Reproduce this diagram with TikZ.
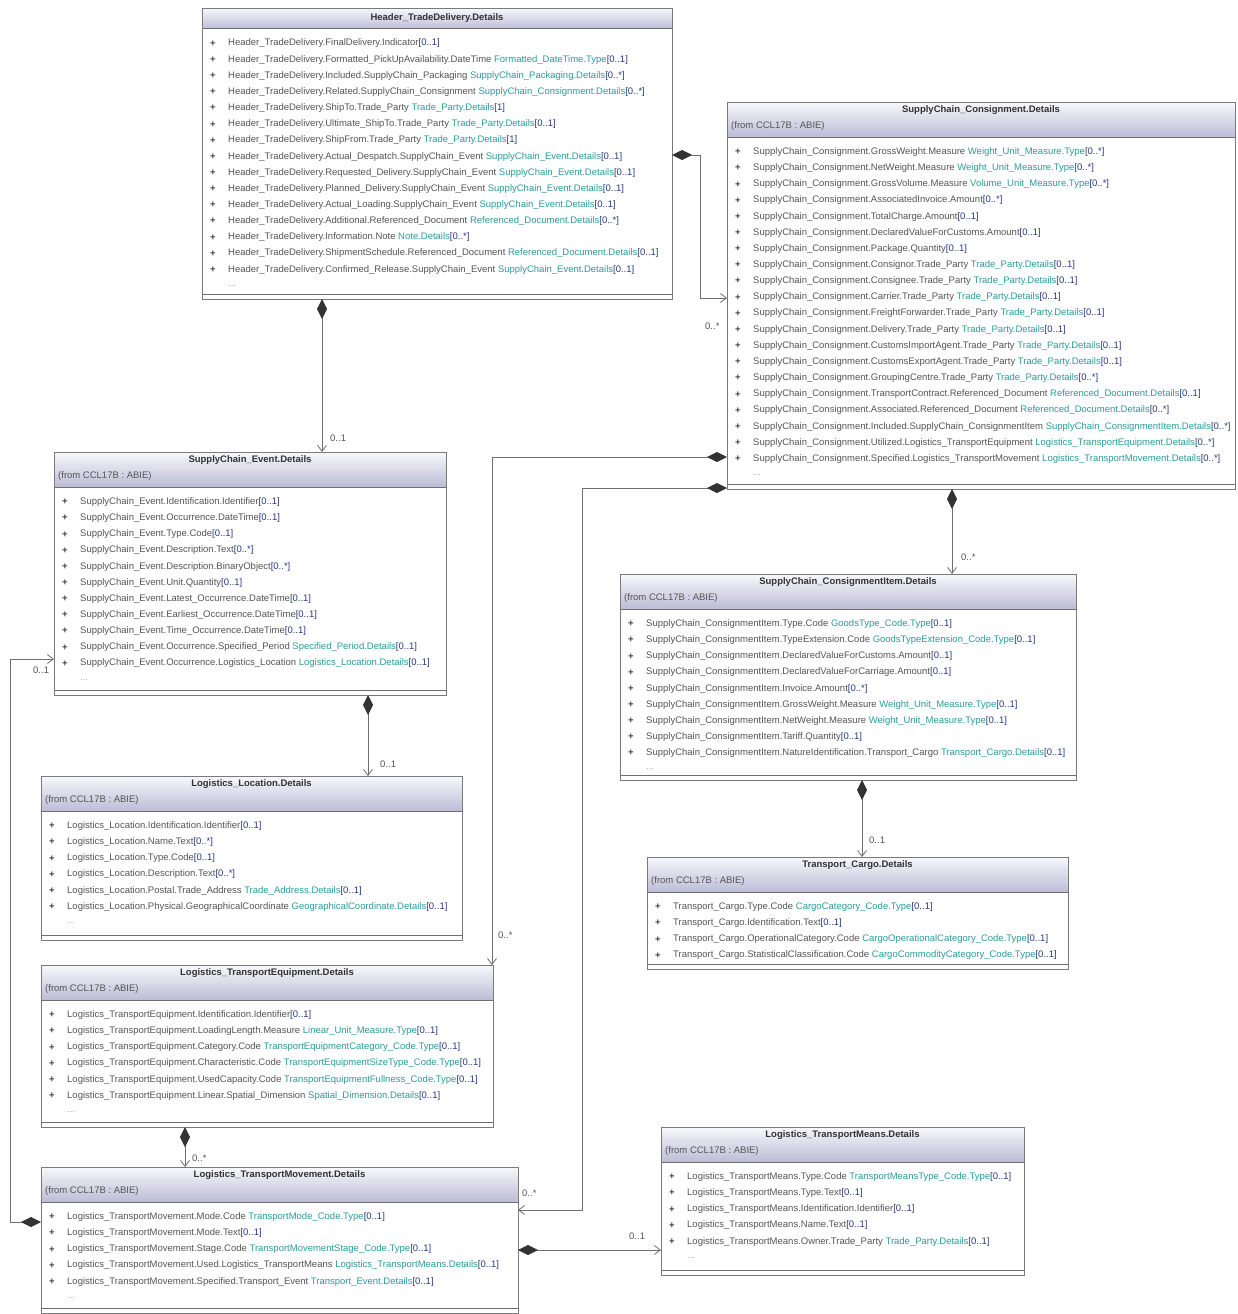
\documentclass[tikz,border=0pt]{standalone}
\usepackage{fontspec}
\setmainfont{Liberation Sans}
\usetikzlibrary{arrows.meta,calc}
\definecolor{bordc}{HTML}{7A7A7A}
\definecolor{namec}{HTML}{555555}
\definecolor{typec}{HTML}{2E9A9A}
\definecolor{multc}{HTML}{2A3A80}
\definecolor{hdtop}{HTML}{F8F8FC}
\definecolor{hdbot}{HTML}{BCBCD6}
\definecolor{linec}{HTML}{6E6E6E}
\newcommand\tyc[1]{\textcolor{typec}{#1}}
\newcommand\mlc[1]{\textcolor{multc}{#1}}
\newcommand\HTD{Header\_TradeDelivery}
\newcommand\SCC{SupplyChain\_Consignment}
\newcommand\SCE{SupplyChain\_Event}
\newcommand\LLo{Logistics\_Location}
\newcommand\LTE{Logistics\_TransportEquipment}
\newcommand\LTM{Logistics\_TransportMovement}
\newcommand\LTMe{Logistics\_TransportMeans}
\newcommand\SCI{SupplyChain\_ConsignmentItem}
\newcommand\TCa{Transport\_Cargo}
\newcommand\TPD{\tyc{Trade\_Party.Details}}
\newcount\rowno
\newcommand\bx{0}\newcommand\ry{0}\newcommand\bid{x}
\tikzset{
  x=1pt, y=-1pt,
  every node/.style={font=\fontsize{9.5}{11}\selectfont},
  box/.style={fill=white, inner sep=0pt, outer sep=0pt},
  boxline/.style={draw=bordc, line width=0.9pt},
  sepline/.style={draw=bordc!90!black, line width=1pt},
  ttl/.style={font=\bfseries\fontsize{9.5}{11}\selectfont, text=black!80, inner sep=0pt},
  frm/.style={anchor=west, text=namec, inner sep=0pt},
  attr/.style={anchor=west, text=namec, inner sep=0pt},
  plus/.style={text=black!75, inner sep=0pt, font=\bfseries\fontsize{9.5}{11}\selectfont},
  lbl/.style={anchor=west, text=namec, inner sep=0pt},
  comp/.style={draw=linec, line width=0.8pt,
    {Diamond[length=20pt,width=10pt,color=black!80]}-{Straight Barb[length=6pt,width=9pt]}},
}
\newcommand\cls[7]{%
  \node[box, minimum width={#4-#2}, minimum height={#5-#3}, anchor=north west] (#1) at (#2,#3) {};
  \ifnum#7=1
    \shade[top color=hdtop,bottom color=hdbot] (#2,#3) rectangle (#4,#3+35);
    \draw[sepline] (#2,#3+35) -- (#4,#3+35);
    \node[ttl] (#1-title) at ({(#2+#4)/2},#3+8.5) {#6};
    \node[frm] (#1-from) at (#2+4,#3+24.5) {(from CCL17B : ABIE)};
    \gdef\ry{#3+50}%
  \else
    \shade[top color=hdtop,bottom color=hdbot] (#2,#3) rectangle (#4,#3+21);
    \draw[sepline] (#2,#3+21) -- (#4,#3+21);
    \node[ttl] (#1-title) at ({(#2+#4)/2},#3+10) {#6};
    \gdef\ry{#3+35.5}%
  \fi
  \draw[sepline] (#2,#5-5) -- (#4,#5-5);
  \draw[boxline] (#2,#3) rectangle (#4,#5);
  \gdef\bx{#2}\gdef\bid{#1}\global\rowno=0
}
\newcommand\R[1]{%
  \node[plus] (\bid-p\the\rowno) at (\bx+11,\ry+\the\rowno*16.15) {+};
  \node[attr] (\bid-a\the\rowno) at (\bx+26,\ry+\the\rowno*16.15) {#1};
  \global\advance\rowno by 1
}
\newcommand\Dots{\node[attr, text=namec!50] (\bid-dots) at (\bx+26,\ry+\the\rowno*16.15) {...};}
\begin{document}
\begin{tikzpicture}
\useasboundingbox (0,0) rectangle (1237,1314);
\fill[white] (0,0) rectangle (1237,1314);

% Header_TradeDelivery
\cls{hdr}{202}{8}{672}{299}{Header\_TradeDelivery.Details}{0}
\R{\HTD.FinalDelivery.Indicator\mlc{[0..1]}}
\R{\HTD.Formatted\_PickUpAvailability.DateTime \tyc{Formatted\_DateTime.Type}\mlc{[0..1]}}
\R{\HTD.Included.SupplyChain\_Packaging \tyc{SupplyChain\_Packaging.Details}\mlc{[0..*]}}
\R{\HTD.Related.SupplyChain\_Consignment \tyc{SupplyChain\_Consignment.Details}\mlc{[0..*]}}
\R{\HTD.ShipTo.Trade\_Party \TPD\mlc{[1]}}
\R{\HTD.Ultimate\_ShipTo.Trade\_Party \TPD\mlc{[0..1]}}
\R{\HTD.ShipFrom.Trade\_Party \TPD\mlc{[1]}}
\R{\HTD.Actual\_Despatch.SupplyChain\_Event \tyc{SupplyChain\_Event.Details}\mlc{[0..1]}}
\R{\HTD.Requested\_Delivery.SupplyChain\_Event \tyc{SupplyChain\_Event.Details}\mlc{[0..1]}}
\R{\HTD.Planned\_Delivery.SupplyChain\_Event \tyc{SupplyChain\_Event.Details}\mlc{[0..1]}}
\R{\HTD.Actual\_Loading.SupplyChain\_Event \tyc{SupplyChain\_Event.Details}\mlc{[0..1]}}
\R{\HTD.Additional.Referenced\_Document \tyc{Referenced\_Document.Details}\mlc{[0..*]}}
\R{\HTD.Information.Note \tyc{Note.Details}\mlc{[0..*]}}
\R{\HTD.ShipmentSchedule.Referenced\_Document \tyc{Referenced\_Document.Details}\mlc{[0..1]}}
\R{\HTD.Confirmed\_Release.SupplyChain\_Event \tyc{SupplyChain\_Event.Details}\mlc{[0..1]}}
\Dots

% SupplyChain_Consignment
\cls{cons}{727}{102}{1235}{489}{SupplyChain\_Consignment.Details}{1}
\R{\SCC.GrossWeight.Measure \tyc{Weight\_Unit\_Measure.Type}\mlc{[0..*]}}
\R{\SCC.NetWeight.Measure \tyc{Weight\_Unit\_Measure.Type}\mlc{[0..*]}}
\R{\SCC.GrossVolume.Measure \tyc{Volume\_Unit\_Measure.Type}\mlc{[0..*]}}
\R{\SCC.AssociatedInvoice.Amount\mlc{[0..*]}}
\R{\SCC.TotalCharge.Amount\mlc{[0..1]}}
\R{\SCC.DeclaredValueForCustoms.Amount\mlc{[0..1]}}
\R{\SCC.Package.Quantity\mlc{[0..1]}}
\R{\SCC.Consignor.Trade\_Party \TPD\mlc{[0..1]}}
\R{\SCC.Consignee.Trade\_Party \TPD\mlc{[0..1]}}
\R{\SCC.Carrier.Trade\_Party \TPD\mlc{[0..1]}}
\R{\SCC.FreightForwarder.Trade\_Party \TPD\mlc{[0..1]}}
\R{\SCC.Delivery.Trade\_Party \TPD\mlc{[0..1]}}
\R{\SCC.CustomsImportAgent.Trade\_Party \TPD\mlc{[0..1]}}
\R{\SCC.CustomsExportAgent.Trade\_Party \TPD\mlc{[0..1]}}
\R{\SCC.GroupingCentre.Trade\_Party \TPD\mlc{[0..*]}}
\R{\SCC.TransportContract.Referenced\_Document \tyc{Referenced\_Document.Details}\mlc{[0..1]}}
\R{\SCC.Associated.Referenced\_Document \tyc{Referenced\_Document.Details}\mlc{[0..*]}}
\R{\SCC.Included.SupplyChain\_ConsignmentItem \tyc{SupplyChain\_ConsignmentItem.Details}\mlc{[0..*]}}
\R{\SCC.Utilized.Logistics\_TransportEquipment \tyc{Logistics\_TransportEquipment.Details}\mlc{[0..*]}}
\R{\SCC.Specified.Logistics\_TransportMovement \tyc{Logistics\_TransportMovement.Details}\mlc{[0..*]}}
\Dots

% SupplyChain_Event
\cls{evt}{54}{452}{446}{695}{SupplyChain\_Event.Details}{1}
\R{\SCE.Identification.Identifier\mlc{[0..1]}}
\R{\SCE.Occurrence.DateTime\mlc{[0..1]}}
\R{\SCE.Type.Code\mlc{[0..1]}}
\R{\SCE.Description.Text\mlc{[0..*]}}
\R{\SCE.Description.BinaryObject\mlc{[0..*]}}
\R{\SCE.Unit.Quantity\mlc{[0..1]}}
\R{\SCE.Latest\_Occurrence.DateTime\mlc{[0..1]}}
\R{\SCE.Earliest\_Occurrence.DateTime\mlc{[0..1]}}
\R{\SCE.Time\_Occurrence.DateTime\mlc{[0..1]}}
\R{\SCE.Occurrence.Specified\_Period \tyc{Specified\_Period.Details}\mlc{[0..1]}}
\R{\SCE.Occurrence.Logistics\_Location \tyc{Logistics\_Location.Details}\mlc{[0..1]}}
\Dots

% Logistics_Location
\cls{loc}{41}{776}{462}{940}{Logistics\_Location.Details}{1}
\R{\LLo.Identification.Identifier\mlc{[0..1]}}
\R{\LLo.Name.Text\mlc{[0..*]}}
\R{\LLo.Type.Code\mlc{[0..1]}}
\R{\LLo.Description.Text\mlc{[0..*]}}
\R{\LLo.Postal.Trade\_Address \tyc{Trade\_Address.Details}\mlc{[0..1]}}
\R{\LLo.Physical.GeographicalCoordinate \tyc{GeographicalCoordinate.Details}\mlc{[0..1]}}
\Dots

% Logistics_TransportEquipment
\cls{equip}{41}{965}{493}{1127}{Logistics\_TransportEquipment.Details}{1}
\R{\LTE.Identification.Identifier\mlc{[0..1]}}
\R{\LTE.LoadingLength.Measure \tyc{Linear\_Unit\_Measure.Type}\mlc{[0..1]}}
\R{\LTE.Category.Code \tyc{TransportEquipmentCategory\_Code.Type}\mlc{[0..1]}}
\R{\LTE.Characteristic.Code \tyc{TransportEquipmentSizeType\_Code.Type}\mlc{[0..1]}}
\R{\LTE.UsedCapacity.Code \tyc{TransportEquipmentFullness\_Code.Type}\mlc{[0..1]}}
\R{\LTE.Linear.Spatial\_Dimension \tyc{Spatial\_Dimension.Details}\mlc{[0..1]}}
\Dots

% Logistics_TransportMovement
\cls{mov}{41}{1167}{518}{1313}{Logistics\_TransportMovement.Details}{1}
\R{\LTM.Mode.Code \tyc{TransportMode\_Code.Type}\mlc{[0..1]}}
\R{\LTM.Mode.Text\mlc{[0..1]}}
\R{\LTM.Stage.Code \tyc{TransportMovementStage\_Code.Type}\mlc{[0..1]}}
\R{\LTM.Used.Logistics\_TransportMeans \tyc{Logistics\_TransportMeans.Details}\mlc{[0..1]}}
\R{\LTM.Specified.Transport\_Event \tyc{Transport\_Event.Details}\mlc{[0..1]}}
\Dots

% SupplyChain_ConsignmentItem
\cls{item}{620}{574}{1076}{780}{SupplyChain\_ConsignmentItem.Details}{1}
\R{\SCI.Type.Code \tyc{GoodsType\_Code.Type}\mlc{[0..1]}}
\R{\SCI.TypeExtension.Code \tyc{GoodsTypeExtension\_Code.Type}\mlc{[0..1]}}
\R{\SCI.DeclaredValueForCustoms.Amount\mlc{[0..1]}}
\R{\SCI.DeclaredValueForCarriage.Amount\mlc{[0..1]}}
\R{\SCI.Invoice.Amount\mlc{[0..*]}}
\R{\SCI.GrossWeight.Measure \tyc{Weight\_Unit\_Measure.Type}\mlc{[0..1]}}
\R{\SCI.NetWeight.Measure \tyc{Weight\_Unit\_Measure.Type}\mlc{[0..1]}}
\R{\SCI.Tariff.Quantity\mlc{[0..1]}}
\R{\SCI.NatureIdentification.Transport\_Cargo \tyc{Transport\_Cargo.Details}\mlc{[0..1]}}
\Dots

% Transport_Cargo
\cls{cargo}{647}{857}{1068}{969}{Transport\_Cargo.Details}{1}
\R{\TCa.Type.Code \tyc{CargoCategory\_Code.Type}\mlc{[0..1]}}
\R{\TCa.Identification.Text\mlc{[0..1]}}
\R{\TCa.OperationalCategory.Code \tyc{CargoOperationalCategory\_Code.Type}\mlc{[0..1]}}
\R{\TCa.StatisticalClassification.Code \tyc{CargoCommodityCategory\_Code.Type}\mlc{[0..1]}}

% Logistics_TransportMeans
\cls{means}{661}{1127}{1024}{1275}{Logistics\_TransportMeans.Details}{1}
\R{\LTMe.Type.Code \tyc{TransportMeansType\_Code.Type}\mlc{[0..1]}}
\R{\LTMe.Type.Text\mlc{[0..1]}}
\R{\LTMe.Identification.Identifier\mlc{[0..1]}}
\R{\LTMe.Name.Text\mlc{[0..1]}}
\R{\LTMe.Owner.Trade\_Party \TPD\mlc{[0..1]}}
\Dots

% connectors
\coordinate (ca) at (322,0);
\draw[comp] (hdr.south -| ca) -- (evt.north -| ca);
\node[lbl] (la) at (330,438) {0..1};

\coordinate (cb1) at (700,155);
\coordinate (cb2) at (700,298);
\draw[comp] (hdr.east |- cb1) -- (cb1) -- (cb2) -- (cons.west |- cb2);
\node[lbl] (lb) at (705,326) {0..*};

\coordinate (cc) at (952,0);
\draw[comp] (cons.south -| cc) -- (item.north -| cc);
\node[lbl] (lc) at (961,557) {0..*};

\coordinate (cd1) at (492,457);
\draw[comp] (cons.west |- cd1) -- (cd1) -- (equip.north -| cd1);
\node[lbl] (ld) at (498,935) {0..*};

\coordinate (ce1) at (582,488);
\coordinate (ce2) at (582,1210);
\draw[comp] (cons.west |- ce1) -- (ce1) -- (ce2) -- (mov.east |- ce2);
\node[lbl] (le) at (522,1193) {0..*};

\coordinate (cf) at (368,0);
\draw[comp] (evt.south -| cf) -- (loc.north -| cf);
\node[lbl] (lf) at (380,764) {0..1};

\coordinate (cg1) at (10,1222);
\coordinate (cg2) at (10,659);
\draw[comp] (mov.west |- cg1) -- (cg1) -- (cg2) -- (evt.west |- cg2);
\node[lbl] (lg) at (33,670) {0..1};

\coordinate (ch) at (185,0);
\draw[comp] (equip.south -| ch) -- (mov.north -| ch);
\node[lbl] (lh) at (192,1158) {0..*};

\coordinate (ci) at (0,1250);
\draw[comp] (mov.east |- ci) -- (means.west |- ci);
\node[lbl] (li) at (629,1236) {0..1};

\coordinate (cj) at (862,0);
\draw[comp] (item.south -| cj) -- (cargo.north -| cj);
\node[lbl] (lj) at (869,840) {0..1};
\end{tikzpicture}
\end{document}
